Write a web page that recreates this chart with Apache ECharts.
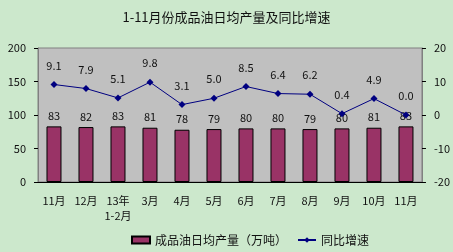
<!DOCTYPE html>
<html><head><meta charset="utf-8">
<script src="https://cdn.jsdelivr.net/npm/echarts@6/dist/echarts.min.js"></script>
<style>html,body{margin:0;padding:0;background:#cce8cc;}#c{width:453px;height:252px;}</style>
</head><body><div id="c"></div>
<script>
const categories = ['11月','12月','13年\n1-2月','3月','4月','5月','6月','7月','8月','9月','10月','11月'];
const output = [83,82,83,81,78,79,80,80,79,80,81,83];
const growth = [9.1,7.9,5.1,9.8,3.1,5.0,8.5,6.4,6.2,0.4,4.9,0.0];
const leftTicks = {min:0,max:200,interval:50};
const rightTicks = {min:-20,max:20,interval:10};

const font = '"Noto Sans CJK SC", sans-serif';
const chart = echarts.init(document.getElementById('c'));
chart.setOption({
  backgroundColor:'#cce8cc',
  animation:false,
  title:{text:'1-11月份成品油日均产量及同比增速',left:'center',top:6,
    textStyle:{fontFamily:font,fontSize:13,fontWeight:'normal',color:'#111'}},
  grid:{left:38,right:25,top:48,bottom:70,show:true,backgroundColor:'#c0c0c0',borderColor:'#808080',borderWidth:1},
  legend:{bottom:1,left:126,itemGap:10,itemWidth:18,itemHeight:7,
    textStyle:{fontFamily:font,fontSize:12,color:'#111'},
    data:[{name:'成品油日均产量（万吨）',icon:'rect'},{name:'同比增速'}]},
  xAxis:{type:'category',data:categories,
    axisLine:{lineStyle:{color:'#000'}},
    axisTick:{inside:true,length:4,lineStyle:{color:'#000'}},
    axisLabel:{interval:0,fontFamily:font,fontSize:11,color:'#111',margin:11,lineHeight:15}},
  yAxis:[
    {type:'value',min:leftTicks.min,max:leftTicks.max,interval:leftTicks.interval,
     splitLine:{show:false},axisLine:{show:true,lineStyle:{color:'#808080'}},
     axisTick:{show:true,length:4,lineStyle:{color:'#000'}},
     axisLabel:{fontFamily:font,fontSize:11,color:'#111',margin:12}},
    {type:'value',min:rightTicks.min,max:rightTicks.max,interval:rightTicks.interval,
     splitLine:{show:false},axisLine:{show:true,lineStyle:{color:'#808080'}},
     axisTick:{show:true,length:4,lineStyle:{color:'#000'}},
     axisLabel:{fontFamily:font,fontSize:11,color:'#111',margin:12}}
  ],
  series:[
    {name:'成品油日均产量（万吨）',type:'bar',data:output,barWidth:15,
     itemStyle:{color:'#993366',borderColor:'#000',borderWidth:1},
     label:{show:true,position:'top',distance:5,fontFamily:font,fontSize:11,color:'#111'}},
    {name:'同比增速',type:'line',yAxisIndex:1,data:growth,
     symbol:'diamond',symbolSize:7,
     lineStyle:{color:'#000080',width:1},itemStyle:{color:'#000080'},
     label:{show:true,position:'top',distance:10,fontFamily:font,fontSize:11,color:'#111',
       formatter:p=>p.value.toFixed(1)}}
  ]
});
</script></body></html>
